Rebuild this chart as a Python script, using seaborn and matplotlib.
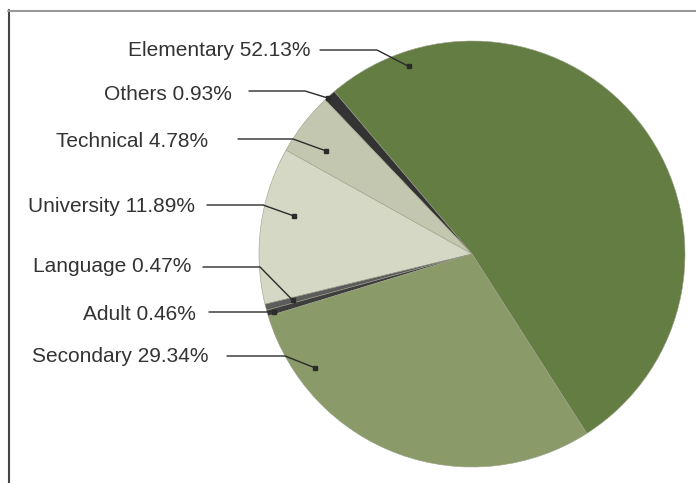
import matplotlib
matplotlib.use("Agg")
import matplotlib.pyplot as plt
import seaborn as sns
import numpy as np

sns.set_theme(style="white")
plt.rcParams['font.family'] = ['Liberation Sans', 'DejaVu Sans']

categories = ["Elementary", "Others", "Technical", "University", "Language", "Adult", "Secondary"]
shares = [52.13, 0.93, 4.78, 11.89, 0.47, 0.46, 29.34]
labels = ["Elementary 52.13%", "Others 0.93%", "Technical 4.78%", "University 11.89%",
          "Language 0.47%", "Adult 0.46%", "Secondary 29.34%"]
colors = ["#647d43", "#333333", "#c4c7af", "#d6d8c6", "#5c5c5c", "#3e3e3e", "#8a9a68"]

W, H = 696, 483
cx, cy, R = 472, 254, 213

fig = plt.figure(figsize=(W / 100, H / 100), dpi=100)
ax = fig.add_axes([0, 0, 1, 1])
ax.set_aspect("equal")
ax.axis("off")

def px(x, y):
    return ((x - cx) / R, (cy - y) / R)

wedges, _ = ax.pie(shares, colors=colors, startangle=-57.4, counterclock=True,
                   radius=1.0, center=(0, 0), frame=False,
                   wedgeprops=dict(linewidth=0.4, edgecolor="#9a9e88"))
ax.set_xlim((0 - cx) / R, (W - cx) / R)
ax.set_ylim((cy - H) / R, (cy - 0) / R)

# label layout (pixel positions): text right edge, baseline, leader start, bend, line y, marker fraction, marker radius
layout = [
    (310, 56.5, 320, 377, 50, 0.885, 0.93),
    (232, 100, 249, 305, 91, 0.72, 0.995),
    (208, 146.7, 238, 293, 139, 0.65, 0.84),
    (195, 211.7, 207, 263, 205, 0.40, 0.855),
    (191, 271.7, 203, 260, 267, 0.45, 0.87),
    (196, 320, 209, 267, 312, 0.55, 0.97),
    (209, 361.7, 227, 285, 356, 0.18, 0.91),
]

for w, lab, (tx, ty, lx0, lx1, ly, frac, rr) in zip(wedges, labels, layout):
    ang = np.deg2rad(w.theta1 + frac * (w.theta2 - w.theta1))
    mx, my = rr * np.cos(ang), rr * np.sin(ang)
    x0, y0 = px(lx0, ly)
    x1, y1 = px(lx1, ly)
    ax.plot([x0, x1, mx], [y0, y1, my], color="#2b2b2b", lw=1.0, solid_joinstyle="miter", zorder=5)
    ax.plot([mx], [my], marker="s", ms=3.5, color="#2b2b2b", zorder=6)
    tx_, ty_ = px(tx, ty)
    ax.text(tx_, ty_, lab, ha="right", va="baseline", fontsize=15, color="#333333")

# frame lines (left and top)
fig.add_artist(plt.Line2D([8.5 / W, 8.5 / W], [0, 1 - 10 / H], color="#444444", lw=1.5))
fig.add_artist(plt.Line2D([8 / W, 1], [1 - 10.5 / H, 1 - 10.5 / H], color="#999999", lw=1.5))

fig.savefig("out.png", dpi=100)
